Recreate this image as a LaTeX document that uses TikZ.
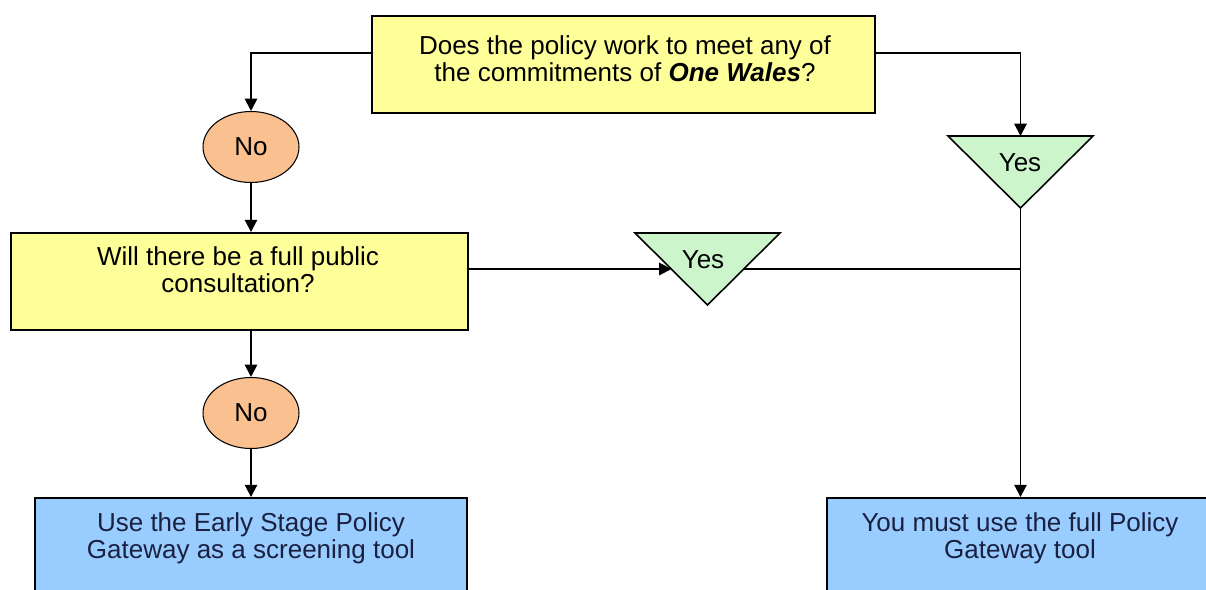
\documentclass[tikz,border=0pt]{standalone}
\usepackage{fontspec}
\setmainfont{Liberation Sans}
\usetikzlibrary{arrows.meta,shapes.geometric}

\definecolor{qyellow}{HTML}{FFFF99}
\definecolor{noorange}{HTML}{FAC090}
\definecolor{yesgreen}{HTML}{CCF5CC}
\definecolor{endblue}{HTML}{99CCFF}
\definecolor{endtext}{HTML}{1A2040}

\begin{document}
\begin{tikzpicture}[x=0.02cm,y=-0.02cm,->,>={Triangle[length=7pt,width=7pt]},line width=1.1pt,
  qbox/.style={draw,fill=qyellow,rectangle,inner sep=0pt},
  endbox/.style={draw,fill=endblue,rectangle,inner sep=0pt},
  nobubble/.style={draw,fill=noorange,ellipse,inner sep=0pt,minimum width=1.92cm,minimum height=1.42cm,line width=0.6pt},
  yestri/.style={draw,fill=yesgreen,line width=0.9pt},
  txt/.style={align=center,inner sep=0pt,font=\fontsize{14.8}{15.4}\selectfont}]

\clip (0,0) rectangle (1206,589);

\node [qbox,minimum width=10.06cm,minimum height=1.94cm] (q1) at (623.5,64.5) {};
\node [qbox,minimum width=9.14cm,minimum height=1.94cm] (q2) at (239.5,281.5) {};
\node [endbox,minimum width=8.64cm,minimum height=2.24cm] (r1) at (251,554) {};
\node [endbox,minimum width=7.76cm,minimum height=2.24cm] (r2) at (1021,554) {};

\node [txt] (q1t) at (625,58.5) {Does the policy work to meet any of\\the commitments of \textbf{\textit{One Wales}}?};
\node [txt] (q2t) at (238,270) {Will there be a full public\\consultation?};
\node [txt,text=endtext] (r1t) at (251,538) {Use the Early Stage Policy\\Gateway as a screening tool};
\node [txt,text=endtext] (r2t) at (1020,538) {You must use the full Policy\\Gateway tool};

\node [nobubble] (no1) at (251,147) {};
\node [txt] at (no1) {No};
\node [nobubble] (no2) at (251,413) {};
\node [txt] at (no2) {No};

\coordinate (t1a) at (635,233);
\coordinate (t1b) at (780,233);
\coordinate (t1c) at (707.5,305);
\coordinate (t2a) at (948,136);
\coordinate (t2b) at (1093,136);
\coordinate (t2c) at (1020.5,208);
\path [yestri,-] (t1a) -- (t1b) -- (t1c) -- cycle;
\path [yestri,-] (t2a) -- (t2b) -- (t2c) -- cycle;
\node [txt] (yes1) at (703,260) {Yes};
\node [txt] (yes2) at (1020,163) {Yes};

\coordinate (t1in) at (671.5,269);
\coordinate (t1out) at (743.5,269);
\coordinate (join) at (1020.5,269);

\draw ([yshift=0.23cm]q1.west) -| (no1.north);
\draw ([yshift=0.23cm]q1.east) -| (t2c |- t2a);
\draw (no1.south) -- (no1.south |- q2.north);
\draw (no2.north |- q2.south) -- (no2.north);
\draw (no2.south) -- (no2.south |- r1.north);
\draw ([yshift=0.25cm]q2.east) -- (t1in);
\draw [-] (t1out) -- (join);
\draw (t2c) -- (t2c |- r2.north);

\end{tikzpicture}
\end{document}
